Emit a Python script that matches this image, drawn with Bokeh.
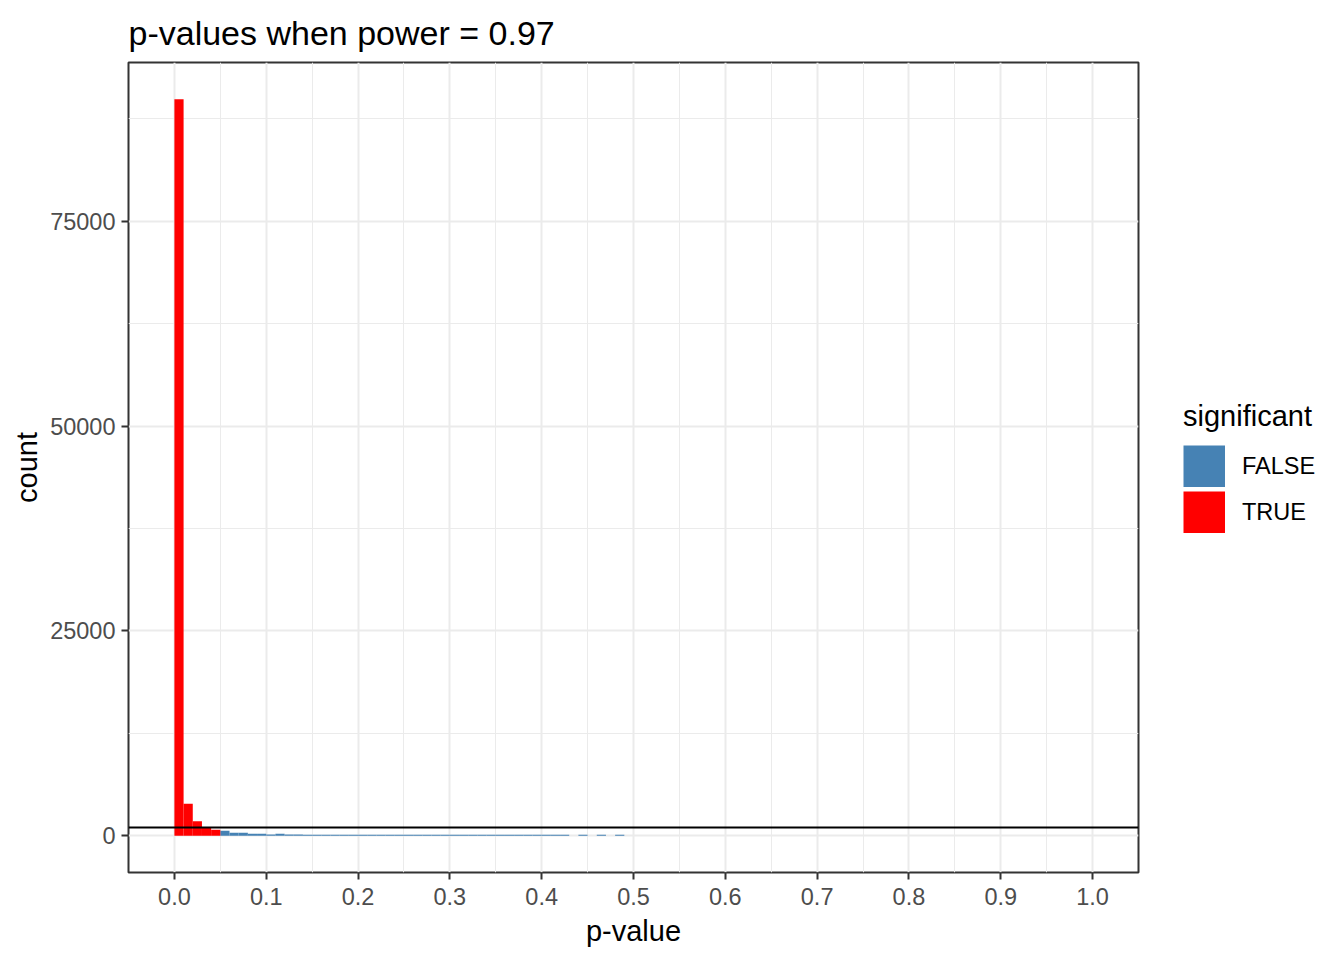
import numpy as np
from bokeh.plotting import figure
from bokeh.models import (ColumnDataSource, Span, Legend, LegendItem, FixedTicker,
                          PrintfTickFormatter, Range1d)
from bokeh.embed import file_html
from bokeh.resources import INLINE

# ---- data ----
bin_width = 0.01
# counts per 0.01-wide bin, starting at p = 0.00
counts = [89900, 3900, 1750, 1010, 730,          # 0.00 - 0.05  (significant)
          610, 370, 370, 250, 250,               # 0.05 - 0.10
          130, 250, 130, 130, 125,               # 0.10 - 0.15
          125, 125, 125, 120, 120,               # 0.15 - 0.20
          120, 120, 120, 120, 120,               # 0.20 - 0.25
          115, 115, 115, 115, 115,               # 0.25 - 0.30
          115, 115, 115, 110, 110,               # 0.30 - 0.35
          110, 110, 110, 110, 110,               # 0.35 - 0.40
          110, 110, 110, 0, 110,                 # 0.40 - 0.45
          0, 110, 0, 110, 0]                     # 0.45 - 0.50
groups = ["FALSE", "TRUE"]
colors = {"FALSE": "#4682B4", "TRUE": "#FF0000"}
alpha_level = 0.05
hline_value = 1000
title_text = "p-values when power = 0.97"
x_ticks = [0.0, 0.1, 0.2, 0.3, 0.4, 0.5, 0.6, 0.7, 0.8, 0.9, 1.0]
y_ticks = [0, 25000, 50000, 75000]

lefts = np.round(np.arange(len(counts)) * bin_width, 2)
rights = np.round(lefts + bin_width, 2)
sig = ["TRUE" if l < alpha_level - 1e-9 else "FALSE" for l in lefts]

FONT = "Liberation Sans"
FW, FH = 1010, 810

ymax = max(counts)
p = figure(frame_width=FW, frame_height=FH, output_backend="svg",
           toolbar_location=None,
           x_range=Range1d(-0.05, 1.05),
           y_range=Range1d(-0.05 * ymax, 1.05 * ymax),
           min_border_left=128, min_border_top=62, min_border_bottom=88,
           min_border_right=196)
p.background_fill_color = "white"
p.border_fill_color = "white"
p.outline_line_color = "#333333"
p.outline_line_width = 2

p.title.text = title_text
p.title.text_font = FONT
p.title.text_font_size = "34px"
p.title.text_font_style = "normal"
p.title.text_color = "black"
p.title.align = "left"
p.title.offset = 0
p.title.standoff = 22

# grids
x_minor = [round(-0.05 + 0.1 * i, 2) for i in range(12)]
y_minor = [-12500, 12500, 37500, 62500, 87500]
p.xaxis.ticker = FixedTicker(ticks=x_ticks, minor_ticks=x_minor)
p.yaxis.ticker = FixedTicker(ticks=y_ticks, minor_ticks=y_minor)
p.xaxis.formatter = PrintfTickFormatter(format="%.1f")
for g in (p.xgrid, p.ygrid):
    g.grid_line_color = "#EBEBEB"
    g.grid_line_width = 2
    g.minor_grid_line_color = "#EBEBEB"
    g.minor_grid_line_width = 1

for ax in (p.xaxis, p.yaxis):
    ax.axis_line_color = None
    ax.major_tick_line_color = "#333333"
    ax.major_tick_line_width = 2
    ax.major_tick_out = 7
    ax.major_tick_in = 0
    ax.minor_tick_line_color = None
    ax.major_label_text_font = FONT
    ax.major_label_text_font_size = "23.5px"
    ax.major_label_text_color = "#4D4D4D"
    ax.axis_label_text_font = FONT
    ax.axis_label_text_font_size = "29px"
    ax.axis_label_text_font_style = "normal"
    ax.axis_label_text_color = "black"
p.xaxis.axis_label = "p-value"
p.yaxis.axis_label = "count"
p.xaxis.major_label_standoff = 8
p.yaxis.major_label_standoff = 6
p.xaxis.axis_label_standoff = 7
p.yaxis.axis_label_standoff = 4

sources = {}
for gname in groups:
    idx = [i for i, s in enumerate(sig) if s == gname]
    sources[gname] = ColumnDataSource(dict(left=lefts[idx], right=rights[idx],
                                           top=[counts[i] for i in idx],
                                           bottom=[0] * len(idx)))
    p.quad(left="left", right="right", top="top", bottom="bottom",
           source=sources[gname], fill_color=colors[gname], line_color=None)

p.add_layout(Span(location=hline_value, dimension="width", line_color="black",
                  line_width=2))

# legend keys: hidden, thick butt-capped lines that fill the whole key box
key_renderers = {}
for gname in groups:
    r = p.line(x="left", y="top", source=sources[gname], line_color=colors[gname],
               line_width=42, line_cap="butt")
    r.visible = False
    key_renderers[gname] = r

legend = Legend(items=[LegendItem(label=g, renderers=[key_renderers[g]]) for g in groups],
                title="significant", location=(45, 339), orientation="vertical")
legend.click_policy = "none"
legend.inactive_fill_alpha = 0
legend.title_text_font = FONT
legend.title_text_font_size = "29px"
legend.title_text_font_style = "normal"
legend.title_text_color = "black"
legend.title_standoff = 12
legend.label_text_font = FONT
legend.label_text_font_size = "23.5px"
legend.label_text_color = "black"
legend.glyph_width = 42
legend.glyph_height = 42
legend.label_height = 42
legend.label_standoff = 17
legend.spacing = 4
legend.padding = 0
legend.margin = 0
legend.border_line_color = None
legend.background_fill_alpha = 0
p.add_layout(legend, "right")

open("out.html", "w").write(file_html(p, INLINE))
